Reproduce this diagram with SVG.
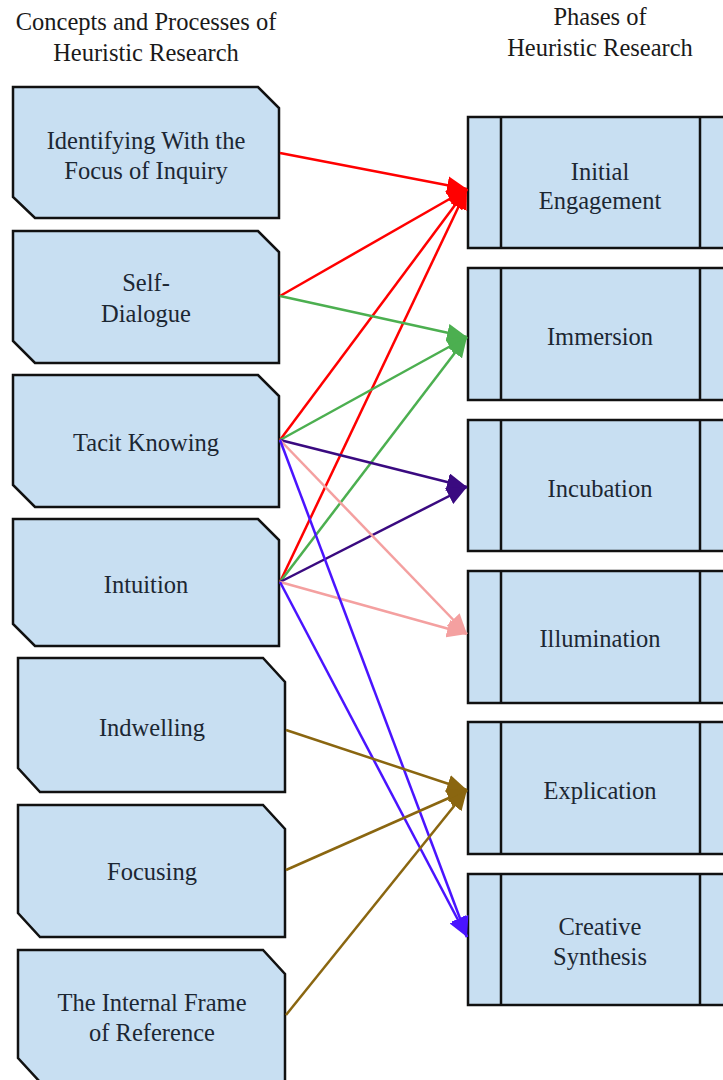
<svg xmlns="http://www.w3.org/2000/svg" width="723" height="1080" viewBox="0 0 723 1080">
<style>
.t{font-family:"Liberation Serif","Times New Roman",serif;font-size:24.5px;fill:#1c2733;text-anchor:middle}
.h{font-family:"Liberation Serif","Times New Roman",serif;font-size:24.5px;fill:#1a1a1a;text-anchor:middle}
.n{fill:#c8dff2;stroke:#111;stroke-width:2.5;stroke-linejoin:miter}
.c{fill:none;stroke-width:2.5}
.v{stroke:#111;stroke-width:2.5}
</style>
<defs>
<marker id="aR" markerUnits="userSpaceOnUse" markerWidth="22" markerHeight="18" refX="20" refY="9" orient="auto"><path d="M0,0 L20,9 L0,18 Z" fill="#ff0000"/></marker>
<marker id="aG" markerUnits="userSpaceOnUse" markerWidth="22" markerHeight="18" refX="20" refY="9" orient="auto"><path d="M0,0 L20,9 L0,18 Z" fill="#4caf50"/></marker>
<marker id="aP" markerUnits="userSpaceOnUse" markerWidth="22" markerHeight="18" refX="20" refY="9" orient="auto"><path d="M0,0 L20,9 L0,18 Z" fill="#3a0a80"/></marker>
<marker id="aK" markerUnits="userSpaceOnUse" markerWidth="22" markerHeight="18" refX="20" refY="9" orient="auto"><path d="M0,0 L20,9 L0,18 Z" fill="#f4a0a0"/></marker>
<marker id="aB" markerUnits="userSpaceOnUse" markerWidth="22" markerHeight="18" refX="20" refY="9" orient="auto"><path d="M0,0 L20,9 L0,18 Z" fill="#4a14ff"/></marker>
<marker id="aY" markerUnits="userSpaceOnUse" markerWidth="22" markerHeight="18" refX="20" refY="9" orient="auto"><path d="M0,0 L20,9 L0,18 Z" fill="#8a6610"/></marker>
</defs>
<rect width="723" height="1080" fill="#fff"/>
<g id="headers">
<text class="h" x="146" y="30">Concepts and Processes of</text>
<text class="h" x="146" y="61">Heuristic Research</text>
<text class="h" x="600" y="25">Phases of</text>
<text class="h" x="600" y="56">Heuristic Research</text>
</g>
<g id="left-1"><path class="n" d="M13,87 H258 L279,108 V218 H35 L13,197 Z"/><text class="t" x="146" y="149">Identifying With the</text><text class="t" x="146" y="179">Focus of Inquiry</text></g>
<g id="left-2"><path class="n" d="M13,231 H258 L279,252 V363 H35 L13,341 Z"/><text class="t" x="146" y="291">Self-</text><text class="t" x="146" y="322">Dialogue</text></g>
<g id="left-3"><path class="n" d="M13,375 H258 L279,396 V507 H35 L13,485 Z"/><text class="t" x="146" y="451">Tacit Knowing</text></g>
<g id="left-4"><path class="n" d="M13,519 H258 L279,540 V646 H35 L13,624 Z"/><text class="t" x="146" y="593">Intuition</text></g>
<g id="left-5"><path class="n" d="M18,658 H263 L285,682 V792 H40 L18,768 Z"/><text class="t" x="152" y="736">Indwelling</text></g>
<g id="left-6"><path class="n" d="M18,805 H263 L285,829 V937 H40 L18,913 Z"/><text class="t" x="152" y="880">Focusing</text></g>
<g id="left-7"><path class="n" d="M18,950 H263 L285,974 V1082 H40 L18,1058 Z"/><text class="t" x="152" y="1011">The Internal Frame</text><text class="t" x="152" y="1041">of Reference</text></g>
<g id="right-1"><rect class="n" x="468" y="117" width="270" height="131"/><line class="v" x1="501" y1="117" x2="501" y2="248"/><line class="v" x1="700" y1="117" x2="700" y2="248"/><text class="t" x="600" y="180">Initial</text><text class="t" x="600" y="209">Engagement</text></g>
<g id="right-2"><rect class="n" x="468" y="268" width="270" height="132"/><line class="v" x1="501" y1="268" x2="501" y2="400"/><line class="v" x1="700" y1="268" x2="700" y2="400"/><text class="t" x="600" y="345">Immersion</text></g>
<g id="right-3"><rect class="n" x="468" y="420" width="270" height="131"/><line class="v" x1="501" y1="420" x2="501" y2="551"/><line class="v" x1="700" y1="420" x2="700" y2="551"/><text class="t" x="600" y="497">Incubation</text></g>
<g id="right-4"><rect class="n" x="468" y="571" width="270" height="132"/><line class="v" x1="501" y1="571" x2="501" y2="703"/><line class="v" x1="700" y1="571" x2="700" y2="703"/><text class="t" x="600" y="647">Illumination</text></g>
<g id="right-5"><rect class="n" x="468" y="722" width="270" height="132"/><line class="v" x1="501" y1="722" x2="501" y2="854"/><line class="v" x1="700" y1="722" x2="700" y2="854"/><text class="t" x="600" y="799">Explication</text></g>
<g id="right-6"><rect class="n" x="468" y="874" width="270" height="131"/><line class="v" x1="501" y1="874" x2="501" y2="1005"/><line class="v" x1="700" y1="874" x2="700" y2="1005"/><text class="t" x="600" y="935">Creative</text><text class="t" x="600" y="965">Synthesis</text></g>
<g id="connectors">
<line class="c" stroke="#ff0000" x1="280" y1="153" x2="467" y2="189" marker-end="url(#aR)"/>
<line class="c" stroke="#ff0000" x1="280" y1="296" x2="467" y2="189" marker-end="url(#aR)"/>
<line class="c" stroke="#ff0000" x1="280" y1="440" x2="467" y2="189" marker-end="url(#aR)"/>
<line class="c" stroke="#ff0000" x1="280" y1="582" x2="467" y2="189" marker-end="url(#aR)"/>
<line class="c" stroke="#4caf50" x1="280" y1="296" x2="467" y2="337" marker-end="url(#aG)"/>
<line class="c" stroke="#4caf50" x1="280" y1="440" x2="467" y2="337" marker-end="url(#aG)"/>
<line class="c" stroke="#4caf50" x1="280" y1="582" x2="467" y2="337" marker-end="url(#aG)"/>
<line class="c" stroke="#3a0a80" x1="280" y1="440" x2="467" y2="487" marker-end="url(#aP)"/>
<line class="c" stroke="#3a0a80" x1="280" y1="582" x2="467" y2="487" marker-end="url(#aP)"/>
<line class="c" stroke="#f4a0a0" x1="280" y1="440" x2="467" y2="634" marker-end="url(#aK)"/>
<line class="c" stroke="#f4a0a0" x1="280" y1="582" x2="467" y2="634" marker-end="url(#aK)"/>
<line class="c" stroke="#4a14ff" x1="280" y1="440" x2="467" y2="937" marker-end="url(#aB)"/>
<line class="c" stroke="#4a14ff" x1="280" y1="582" x2="467" y2="937" marker-end="url(#aB)"/>
<line class="c" stroke="#8a6610" x1="286" y1="730" x2="467" y2="790" marker-end="url(#aY)"/>
<line class="c" stroke="#8a6610" x1="286" y1="870" x2="467" y2="790" marker-end="url(#aY)"/>
<line class="c" stroke="#8a6610" x1="286" y1="1015" x2="467" y2="790" marker-end="url(#aY)"/>
</g>
</svg>
